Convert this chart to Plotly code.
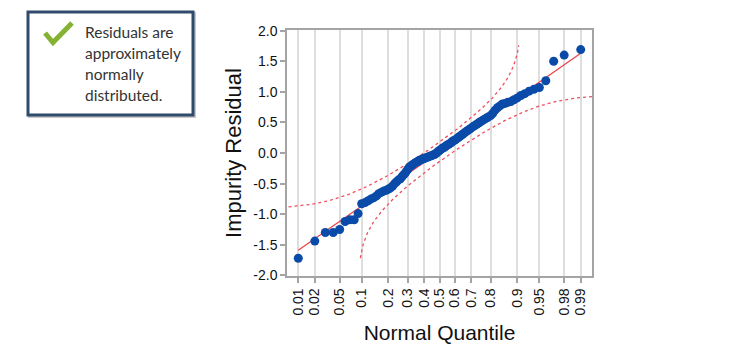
import plotly.graph_objects as go
from statistics import NormalDist

# ---- data (sorted residuals, n = 99) ----
residuals = [
    -1.72, -1.44, -1.30, -1.30, -1.25, -1.12, -1.09, -1.09, -0.99, -0.83,
    -0.81, -0.78, -0.75, -0.73, -0.70, -0.66, -0.64, -0.62, -0.61, -0.59,
    -0.57, -0.54, -0.50, -0.47, -0.44, -0.42, -0.38, -0.35, -0.31, -0.27,
    -0.23, -0.21, -0.19, -0.17, -0.15, -0.14, -0.12, -0.11, -0.10, -0.09,
    -0.08, -0.07, -0.06, -0.05, -0.04, -0.03, -0.02, 0.00, 0.02, 0.04,
    0.06, 0.08, 0.09, 0.11, 0.13, 0.14, 0.16, 0.18, 0.20, 0.21,
    0.23, 0.25, 0.27, 0.29, 0.31, 0.33, 0.35, 0.37, 0.39, 0.41,
    0.43, 0.45, 0.47, 0.49, 0.51, 0.53, 0.55, 0.57, 0.59, 0.61,
    0.65, 0.70, 0.74, 0.77, 0.80, 0.81, 0.83, 0.84, 0.87, 0.90,
    0.94, 0.97, 1.01, 1.04, 1.07, 1.18, 1.50, 1.60, 1.69,
]
prob_ticks = [0.01, 0.02, 0.05, 0.1, 0.2, 0.3, 0.4, 0.5, 0.6, 0.7, 0.8, 0.9, 0.95, 0.98, 0.99]
prob_labels = ["0.01", "0.02", "0.05", "0.1", "0.2", "0.3", "0.4", "0.5", "0.6", "0.7",
               "0.8", "0.9", "0.95", "0.98", "0.99"]
y_ticks = [2.0, 1.5, 1.0, 0.5, 0.0, -0.5, -1.0, -1.5, -2.0]
y_labels = ["2.0", "1.5", "1.0", "0.5", "0.0", "-0.5", "-1.0", "-1.5", "-2.0"]
line_intercept = 0.02
line_slope = 0.692
ks_crit = 0.09
callout_lines = ["Residuals are", "approximately", "normally", "distributed."]

nd = NormalDist()
n = len(residuals)
quantiles = [nd.inv_cdf((i + 1) / (n + 1)) for i in range(n)]
tick_z = [nd.inv_cdf(p) for p in prob_ticks]

x_min, x_max = -2.512, 2.512
W, H = 750, 362
ml, mr, mt, mb = 287, 158, 30, 86
pw, ph = W - ml - mr, H - mt - mb


def px2paper(x, y):
    return (x - ml) / pw, (H - mb - y) / ph


fig = go.Figure()

# confidence bands
p_lo, p_hi = nd.cdf(x_min), nd.cdf(x_max)
steps = 600
up_x, up_y, lo_x, lo_y = [], [], [], []
for k in range(steps + 1):
    t = k / steps
    p = (ks_crit + 1e-5) + (p_hi - ks_crit - 1e-5) * t
    up_x.append(nd.inv_cdf(p - ks_crit))
    up_y.append(line_intercept + line_slope * nd.inv_cdf(p))
    p2 = p_lo + (1 - ks_crit - 1e-5 - p_lo) * t
    lo_x.append(nd.inv_cdf(p2 + ks_crit))
    lo_y.append(line_intercept + line_slope * nd.inv_cdf(p2))

band_style = dict(color="#ee5060", width=1.3, dash="dot")
fig.add_trace(go.Scatter(x=up_x, y=up_y, mode="lines", line=band_style, hoverinfo="skip"))
fig.add_trace(go.Scatter(x=lo_x, y=lo_y, mode="lines", line=band_style, hoverinfo="skip"))

# reference line
lx = [quantiles[0], quantiles[-1]]
fig.add_trace(go.Scatter(x=lx, y=[line_intercept + line_slope * v for v in lx], mode="lines",
                         line=dict(color="#e8404a", width=1.2), hoverinfo="skip"))

# points
fig.add_trace(go.Scatter(x=quantiles, y=residuals, mode="markers",
                         marker=dict(color="#0a4aa8", size=9, line=dict(width=0))))

axis_common = dict(showline=True, linecolor="#a4a4a4", linewidth=1.5, mirror=True,
                   ticks="outside", ticklen=5, tickcolor="#a4a4a4", tickwidth=1.5,
                   zeroline=False, tickfont=dict(size=14, color="#111"))

fig.update_xaxes(range=[x_min, x_max], tickvals=tick_z, ticktext=prob_labels, tickangle=-90,
                 showgrid=True, gridcolor="#dedede", gridwidth=1.5,
                 title=dict(text="Normal Quantile", font=dict(size=21, color="#111"), standoff=11),
                 **axis_common)
fig.update_yaxes(range=[-2.01, 2.01], tickvals=y_ticks, ticktext=y_labels, showgrid=False,
                 title=dict(text="Impurity Residual", font=dict(size=22, color="#111"), standoff=6),
                 **axis_common)

# callout box
x0, y0 = px2paper(28, 12)
x1, y1 = px2paper(193, 115)
fig.add_shape(type="rect", xref="paper", yref="paper", x0=x0 + 1.5 / pw, y0=y1 - 1.5 / ph,
              x1=x1 + 1.5 / pw, y1=y0 - 1.5 / ph, line=dict(color="#c8c8c8", width=3),
              fillcolor="white", layer="above")
fig.add_shape(type="rect", xref="paper", yref="paper", x0=x0, y0=y1, x1=x1, y1=y0,
              line=dict(color="#2e4a6c", width=3), fillcolor="white", layer="above")

# check mark
c = [px2paper(45, 33), px2paper(53, 42.5), px2paper(72, 23)]
path = "M {} {} L {} {} L {} {}".format(c[0][0], c[0][1], c[1][0], c[1][1], c[2][0], c[2][1])
fig.add_shape(type="path", xref="paper", yref="paper", path=path,
              line=dict(color="#86b234", width=5), layer="above")

for i, txt in enumerate(callout_lines):
    ax, ay = px2paper(83, 32 + 21 * i)
    fig.add_annotation(xref="paper", yref="paper", x=ax, y=ay, text=txt, showarrow=False,
                       xanchor="left", yanchor="middle",
                       font=dict(family="Lato, Open Sans, sans-serif", size=15.5, color="#333"))

fig.update_layout(width=W, height=H, margin=dict(l=ml, r=mr, t=mt, b=mb, autoexpand=False),
                  plot_bgcolor="white", paper_bgcolor="white", showlegend=False,
                  font=dict(family="Liberation Sans, Arial, Helvetica, sans-serif"))

fig.write_html("out.html", config={"displayModeBar": False},
               post_script="document.body.style.margin='0';")
